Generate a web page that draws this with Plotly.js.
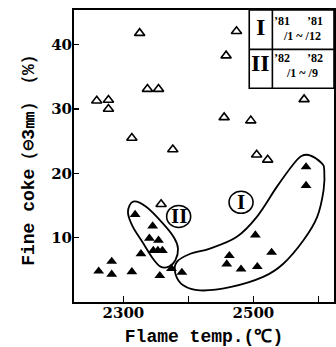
<!DOCTYPE html>
<html>
<head>
<meta charset="utf-8">
<script src="https://cdn.plot.ly/plotly-3.0.1.min.js"></script>
<style>html,body{margin:0;padding:0;background:#fff;}</style>
</head>
<body>
<div id="chart" style="width:336px;height:347px;"></div>
<script>
// Open-triangle points
const openX = [2259, 2277, 2277, 2313, 2325, 2337, 2354, 2358, 2376, 2455, 2458, 2474, 2496, 2505, 2522, 2578];
const openY = [31.3, 31.4, 30.0, 25.5, 41.8, 33.1, 33.1, 15.2, 23.7, 28.7, 38.3, 42.1, 28.2, 22.9, 22.1, 31.5];
// Filled-triangle points
const filledX = [2262, 2282, 2282, 2313, 2318, 2327, 2345, 2340, 2354, 2346, 2353, 2360, 2356, 2374, 2390, 2459, 2463, 2481, 2503, 2506, 2528, 2581, 2581];
const filledY = [4.8, 6.3, 4.3, 4.7, 13.6, 7.5, 11.8, 9.9, 9.6, 8.0, 8.0, 8.0, 4.1, 5.2, 4.6, 5.9, 7.2, 5.1, 10.4, 5.5, 7.7, 21.0, 18.1];
// Enclosure outlines
const loopIX = [2587, 2605, 2609, 2608, 2598, 2577, 2546, 2515, 2464, 2418, 2392, 2380, 2382, 2403, 2433, 2474, 2505, 2536, 2562, 2574];
const loopIY = [22.8, 21.6, 20.5, 17.4, 13.2, 9.6, 5.95, 3.9, 2.3, 1.8, 2.6, 4.4, 6.2, 7.5, 8.3, 10.1, 13.2, 17.9, 21.5, 22.7];
const loopIIX = [2315, 2335, 2360, 2378, 2384, 2380, 2370, 2357, 2345, 2330, 2314, 2307];
const loopIIY = [15.6, 14.8, 12.3, 10.0, 8.3, 6.5, 5.5, 5.5, 6.8, 9.2, 11.8, 14.0];
// Group labels
const groupLabels = ['I', 'II'];
const groupLabelX = [2481, 2385];
const groupLabelY = [15.5, 13.3];
// Axis ticks
const xTickVals = [2300, 2400, 2500, 2600];
const xTickText = ['2300', '', '2500', ''];
const yTickVals = [10, 20, 30, 40];
// Period table
const periodNames = ['I', 'II'];
const periodFrom = ["\u201981", "\u201982"];
const periodTo = ["\u201981", "\u201982"];
const monthFrom = ["/1", "/1"];
const monthTo = ["/12", "/9"];

function closedPath(xs, ys) {
  const n = xs.length;
  let d = 'M' + xs[0] + ',' + ys[0];
  for (let i = 0; i < n; i++) {
    const p0 = (i - 1 + n) % n, p1 = i, p2 = (i + 1) % n, p3 = (i + 2) % n;
    const c1x = xs[p1] + (xs[p2] - xs[p0]) / 6, c1y = ys[p1] + (ys[p2] - ys[p0]) / 6;
    const c2x = xs[p2] - (xs[p3] - xs[p1]) / 6, c2y = ys[p2] - (ys[p3] - ys[p1]) / 6;
    d += ' C' + c1x + ',' + c1y + ' ' + c2x + ',' + c2y + ' ' + xs[p2] + ',' + ys[p2];
  }
  return d + ' Z';
}

const serifBold = {family: 'DejaVu Serif', size: 15, color: '#000', weight: 700};
const monoBold = {family: 'Liberation Mono, monospace', size: 18, color: '#000', weight: 700};

const traces = [
  {x: openX, y: openY, type: 'scatter', mode: 'markers', cliponaxis: false,
   marker: {symbol: 'triangle-up-open', size: 9, color: '#000', line: {width: 1.6, color: '#000'}}, hoverinfo: 'skip'},
  {x: filledX, y: filledY, type: 'scatter', mode: 'markers',
   marker: {symbol: 'triangle-up', size: 9.5, color: '#000', line: {width: 0}}, hoverinfo: 'skip'}
];

const shapes = [
  {type: 'path', xref: 'x', yref: 'y', path: closedPath(loopIX, loopIY), line: {color: '#000', width: 1.8}},
  {type: 'path', xref: 'x', yref: 'y', path: closedPath(loopIIX, loopIIY), line: {color: '#000', width: 1.8}},
  {type: 'rect', xref: 'paper', yref: 'paper', x0: 0.674, x1: 1, y0: 0.732, y1: 1, line: {color: '#000', width: 1.6}},
  {type: 'line', xref: 'paper', yref: 'paper', x0: 0.763, x1: 0.763, y0: 0.732, y1: 1, line: {color: '#000', width: 1.6}},
  {type: 'line', xref: 'paper', yref: 'paper', x0: 0.674, x1: 1, y0: 0.865, y1: 0.865, line: {color: '#000', width: 1.6}}
];
groupLabelX.forEach((gx, i) => {
  shapes.push({type: 'circle', xref: 'x', yref: 'y', xsizemode: 'pixel', ysizemode: 'pixel',
    xanchor: gx, yanchor: groupLabelY[i], x0: -12, x1: 12, y0: -11, y1: 11, line: {color: '#000', width: 1.6}});
});

const annotations = [];
groupLabels.forEach((t, i) => {
  annotations.push({x: groupLabelX[i], y: groupLabelY[i], xref: 'x', yref: 'y', text: t, showarrow: false,
    font: {family: 'Liberation Serif', size: 21, color: '#000', weight: 700}, xanchor: 'center', yanchor: 'middle', borderpad: 0});
});
const rowY = [0.943, 0.817];
const line1Y = [0.962, 0.835];
const line2Y = [0.91, 0.783];
const sf = {family: 'Liberation Serif', size: 12, color: '#000', weight: 700};
function ann(x, y, text, font) {
  annotations.push({x: x, y: y, xref: 'paper', yref: 'paper', text: text, showarrow: false, font: font,
    xanchor: 'center', yanchor: 'middle', borderpad: 0});
}
periodNames.forEach((t, i) => {
  ann(0.7185, rowY[i], t, {family: 'Liberation Serif', size: 24, color: '#000', weight: 700});
  ann(0.8, line1Y[i], periodFrom[i], sf);
  ann(0.928, line1Y[i], periodTo[i], sf);
  ann(0.878, line2Y[i], monthFrom[i] + '\u00a0~\u00a0' + monthTo[i], sf);
});

const layout = {
  width: 336, height: 347,
  margin: {l: 74, r: 2, t: 10, b: 45, pad: 0},
  paper_bgcolor: '#fff', plot_bgcolor: '#fff',
  showlegend: false,
  xaxis: {
    range: [2224, 2624], tickvals: xTickVals, ticktext: xTickText,
    ticks: 'inside', ticklen: 6, tickwidth: 1.5, tickcolor: '#000',
    showline: true, linecolor: '#000', linewidth: 2, mirror: true,
    showgrid: false, zeroline: false, tickfont: serifBold, ticklabelstandoff: -4,
    title: {text: 'Flame temp.(\u2103)', font: monoBold, standoff: 12}
  },
  yaxis: {
    range: [0, 45.4], tickvals: yTickVals,
    ticks: 'inside', ticklen: 5, tickwidth: 1.5, tickcolor: '#000',
    showline: true, linecolor: '#000', linewidth: 2, mirror: true,
    showgrid: false, zeroline: false, tickfont: serifBold, ticklabelstandoff: -3,
    title: {text: 'Fine coke\uFF08\u22963\u339C\uFF09\uFF08%\uFF09', font: monoBold, standoff: 12}
  },
  shapes: shapes,
  annotations: annotations
};

Plotly.newPlot('chart', traces, layout, {staticPlot: true, displayModeBar: false});
</script>
</body>
</html>
